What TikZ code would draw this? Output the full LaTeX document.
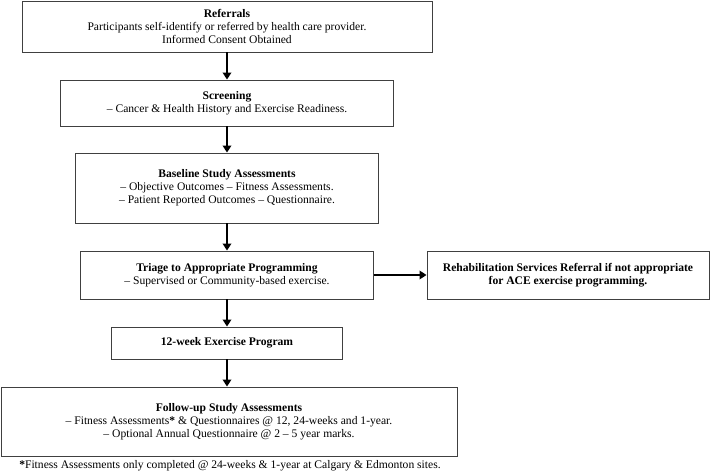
\documentclass[tikz,border=0pt]{standalone}
\usepackage{fontspec}
\setmainfont{Liberation Serif}
\usetikzlibrary{arrows.meta}

\begin{document}
\begin{tikzpicture}[x=1pt, y=-1pt,
  box/.style={draw=black!75, line width=0.9pt, align=center, inner sep=0pt,
    font=\fontsize{11.6}{13}\selectfont},
  arr/.style={-{Triangle[length=7pt,width=8.5pt]}, line width=2.4pt}]

\useasboundingbox (0,0) rectangle (710,473);

\node[box, minimum width=410, minimum height=51] (R) at (227,26.5)
  {\textbf{Referrals}\\Participants self-identify or referred by health care provider.\\Informed Consent Obtained};
\node[box, minimum width=333, minimum height=46] (S) at (227,103)
  {\textbf{Screening}\\– Cancer \& Health History and Exercise Readiness.};
\node[box, minimum width=303, minimum height=70] (B) at (227,188)
  {\textbf{Baseline Study Assessments}\\– Objective Outcomes – Fitness Assessments.\\– Patient Reported Outcomes – Questionnaire.};
\node[box, minimum width=293, minimum height=48] (T) at (227,275)
  {\textbf{Triage to Appropriate Programming}\\– Supervised or Community-based exercise.};
\node[box, minimum width=282, minimum height=48] (H) at (568,275)
  {\textbf{Rehabilitation Services Referral if not appropriate}\\\textbf{for ACE exercise programming.}};
\node[box, minimum width=231, minimum height=32] (P) at (227,343)
  {\textbf{12-week Exercise Program}};
\node[box, minimum width=456, minimum height=69] (F) at (229,421.5)
  {\textbf{Follow-up Study Assessments}\\– Fitness Assessments\textbf{*} \& Questionnaires @ 12, 24-weeks and 1-year.\\– Optional Annual Questionnaire @ 2 – 5 year marks.};
\node[font=\fontsize{11.6}{13}\selectfont, inner sep=0pt] (N) at (230,466)
  {\textbf{*}Fitness Assessments only completed @ 24-weeks \& 1-year at Calgary \& Edmonton sites.};

\draw[arr] (R) -- (S);
\draw[arr] (S) -- (B);
\draw[arr] (B) -- (T);
\draw[arr] (T) -- (H);
\draw[arr] (T) -- (P);
\draw[arr] (P.south) -- (P.south |- F.north);

\end{tikzpicture}
\end{document}
